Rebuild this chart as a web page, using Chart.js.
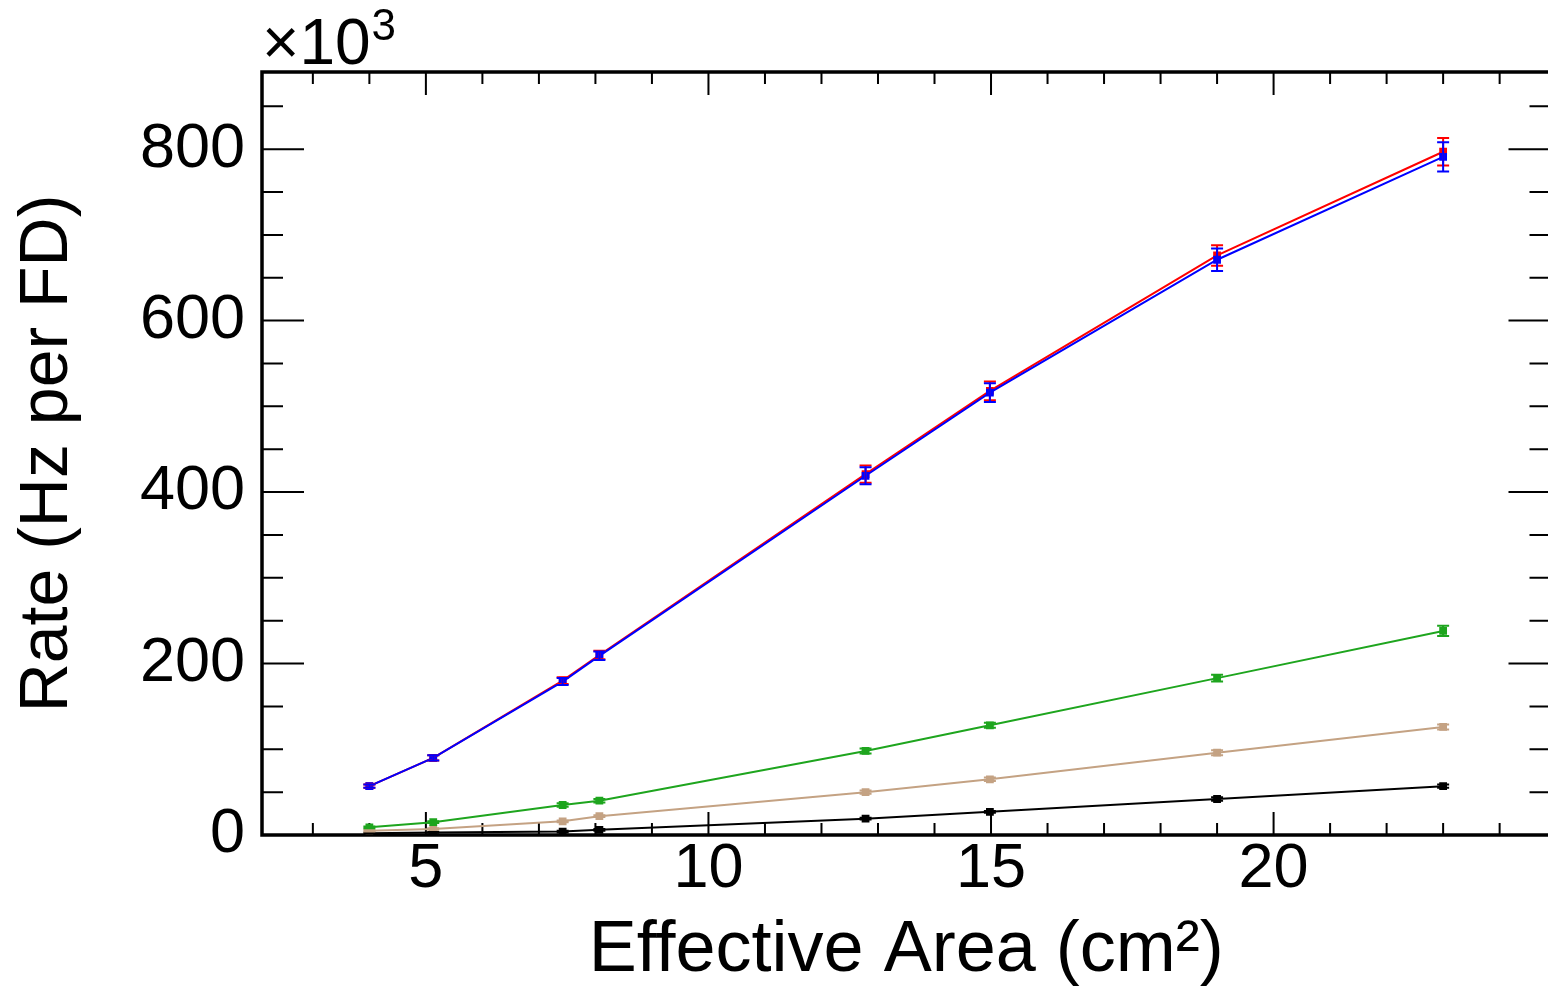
<!DOCTYPE html>
<html>
<head>
<meta charset="utf-8">
<script src="https://cdn.jsdelivr.net/npm/chart.js@4"></script>
<style>
  html, body { margin: 0; padding: 0; overflow: hidden; background: #fff; }
  #wrap { width: 1556px; height: 989px; }
</style>
</head>
<body>
<div id="wrap"><canvas id="rateChart"></canvas></div>
<script>
// effective area (cm^2) of each point
const areas = [4.0, 5.13, 7.42, 8.07, 12.78, 14.98, 19.0, 23.0];

// rates in units of 10^3 Hz per FD
const blueRate  = [57, 90, 179, 209, 419, 516, 671, 791];
const blueErr   = [2, 3, 4, 5, 10, 11, 13, 17];
const redRate   = [57, 90, 180, 210, 421, 518, 676, 797];
const redErr    = [2, 3, 4, 5, 10, 11, 12, 16];
const greenRate = [9, 15, 35, 40, 98, 128, 183, 238];
const greenErr  = [1, 1, 2, 2, 3, 3, 4, 6];
const tanRate   = [5, 7, 16, 22, 50, 65, 96, 126];
const tanErr    = [1, 1, 1, 1, 2, 2, 3, 3];
const blackRate = [2, 3, 4, 6, 19, 27, 42, 57];
const blackErr  = [0.5, 0.5, 1, 1, 1, 1, 2, 2];

const xTicks = [5, 10, 15, 20];
const yTicks = [0, 200, 400, 600, 800];

const FONT = "'Liberation Sans', Arial, Helvetica, sans-serif";

function series(label, rates, errs, color) {
    return {
        label: label,
        data: areas.map((x, i) => ({ x: x, y: rates[i] })),
        errors: errs,
        borderColor: color,
        backgroundColor: color,
        borderWidth: 2,
        pointStyle: "rect",
        pointRadius: 5.5,
        pointBorderWidth: 0,
        tension: 0,
        fill: false
    };
}

// ROOT style frame with ticks pointing inward
const framePlugin = {
    id: "frame",
    beforeDatasetsDraw(chart) {
        const { ctx, chartArea: a, scales } = chart;
        ctx.save();
        ctx.strokeStyle = "#000";
        ctx.lineWidth = 2;
        ctx.beginPath();
        for (let v = 3; v <= 24; v++) {
            const px = scales.x.getPixelForValue(v);
            const len = v % 5 === 0 ? 23 : 12;
            ctx.moveTo(px, a.bottom); ctx.lineTo(px, a.bottom - len);
            ctx.moveTo(px, a.top); ctx.lineTo(px, a.top + len);
        }
        for (let v = 0; v <= 850; v += 50) {
            const py = scales.y.getPixelForValue(v);
            const len = v % 200 === 0 ? 42 : 21;
            ctx.moveTo(a.left, py); ctx.lineTo(a.left + len, py);
            ctx.moveTo(a.right, py); ctx.lineTo(a.right - len, py);
        }
        ctx.stroke();
        ctx.lineWidth = 3.5;
        ctx.strokeRect(a.left, a.top, a.right - a.left, a.bottom - a.top);

        // exponent label
        ctx.fillStyle = "#000";
        ctx.textBaseline = "alphabetic";
        ctx.textAlign = "left";
        ctx.font = "64px " + FONT;
        ctx.fillText("\u00d710", a.left, 64);
        const w = ctx.measureText("\u00d710").width;
        ctx.font = "44px " + FONT;
        ctx.fillText("3", a.left + w + 1, 40);
        ctx.restore();
    }
};

const errorBarPlugin = {
    id: "errorBars",
    afterDatasetsDraw(chart) {
        const { ctx, scales } = chart;
        ctx.save();
        ctx.beginPath();
        ctx.rect(chart.chartArea.left, chart.chartArea.top,
                 chart.chartArea.right - chart.chartArea.left,
                 chart.chartArea.bottom - chart.chartArea.top);
        ctx.clip();
        for (let d = chart.data.datasets.length - 1; d >= 0; d--) {
            const ds = chart.data.datasets[d];
            ctx.strokeStyle = ds.borderColor;
            ctx.lineWidth = 2;
            ds.data.forEach((p, i) => {
                const px = scales.x.getPixelForValue(p.x);
                const top = scales.y.getPixelForValue(p.y + ds.errors[i]);
                const bot = scales.y.getPixelForValue(p.y - ds.errors[i]);
                ctx.beginPath();
                ctx.moveTo(px, top); ctx.lineTo(px, bot);
                ctx.moveTo(px - 6, top); ctx.lineTo(px + 6, top);
                ctx.moveTo(px - 6, bot); ctx.lineTo(px + 6, bot);
                ctx.stroke();
            });
        }
        ctx.restore();
    }
};

const ctx = document.getElementById("rateChart").getContext("2d");
const rateChart = new Chart(ctx, {
    type: "line",
    data: {
        datasets: [
            series("blue", blueRate, blueErr, "#0000ff"),
            series("red", redRate, redErr, "#ff0000"),
            series("green", greenRate, greenErr, "#1ea51e"),
            series("tan", tanRate, tanErr, "#c4a283"),
            series("black", blackRate, blackErr, "#000000")
        ]
    },
    options: {
        responsive: true,
        maintainAspectRatio: false,
        animation: false,
        layout: { padding: { left: 0, top: 72, right: 2, bottom: 0 } },
        plugins: {
            legend: { display: false },
            tooltip: { enabled: false }
        },
        scales: {
            x: {
                type: "linear",
                min: 2.1,
                max: 24.9,
                afterBuildTicks: s => { s.ticks = xTicks.map(v => ({ value: v })); },
                afterFit: s => { s.height = 154; },
                grid: { display: false, drawTicks: false },
                border: { display: false },
                ticks: {
                    color: "#000",
                    padding: -3,
                    maxRotation: 0,
                    font: { family: FONT, size: 63 },
                    callback: v => String(v)
                },
                title: {
                    display: true,
                    text: "Effective Area (cm\u00b2)",
                    color: "#000",
                    font: { family: FONT, size: 72, lineHeight: 1 },
                    padding: { top: 0, bottom: 2 }
                }
            },
            y: {
                type: "linear",
                min: 0,
                max: 890,
                afterBuildTicks: s => { s.ticks = yTicks.map(v => ({ value: v })); },
                afterFit: s => { s.width = 262; },
                grid: { display: false, drawTicks: false },
                border: { display: false },
                ticks: {
                    color: "#000",
                    padding: 17,
                    font: { family: FONT, size: 63 },
                    callback: v => String(v)
                },
                title: {
                    display: true,
                    text: "Rate (Hz per FD)",
                    color: "#000",
                    font: { family: FONT, size: 68, lineHeight: 1 },
                    padding: { top: 14, bottom: 0 }
                }
            }
        }
    },
    plugins: [framePlugin, errorBarPlugin]
});
</script>
</body>
</html>
